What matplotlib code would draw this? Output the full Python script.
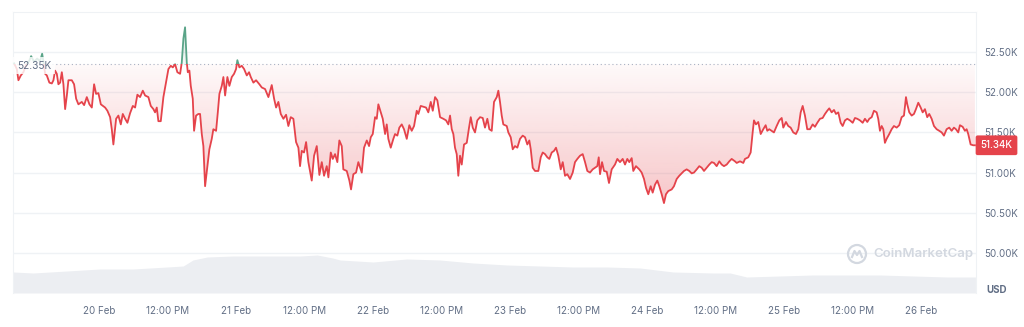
import numpy as np
import matplotlib
matplotlib.use("Agg")
import matplotlib.pyplot as plt
from matplotlib.colors import to_rgb
from matplotlib.patches import Rectangle, Ellipse
from matplotlib.lines import Line2D
import matplotlib.transforms as mtransforms

plt.rcParams["font.family"] = ["Inter", "DejaVu Sans"]

# price in K USD, time in hours from 20 Feb 00:00
price_hours = [
    -14.95, -14.48, -14.2, -13.78, -13.33, -12.85, -12.32, -11.97, -11.45, -10.92,
    -10.4, -10.04, -9.78, -9.52, -9.22, -8.77, -8.34, -8.06, -7.77, -7.47,
    -7.19, -6.89, -6.59, -6.31, -6.01, -5.71, -5.43, -4.84, -4.44, -4.08,
    -3.68, -3.09, -2.68, -2.21, -1.75, -1.33, -0.93, -0.58, -0.18, 0.25,
    1.0, 1.4, 1.88, 2.17, 2.45, 2.93, 3.33, 3.75, 4.1, 4.51,
    4.91, 5.38, 5.86, 6.26, 6.66, 7.13, 7.61, 8.01, 8.59, 9.01,
    9.47, 9.76, 10.06, 10.34, 10.76, 11.22, 11.69, 12.1, 12.52, 12.87,
    13.27, 13.67, 14.15, 14.44, 14.73, 15.02, 15.32, 15.5, 15.78, 16.02,
    16.37, 16.6, 16.95, 17.35, 17.65, 17.95, 18.23, 18.53, 18.93, 19.28,
    19.7, 19.98, 20.46, 20.76, 21.04, 21.46, 21.74, 22.04, 22.44, 22.79,
    23.21, 23.61, 23.96, 24.19, 24.54, 24.96, 25.37, 25.84, 26.24, 26.54,
    27.0, 27.47, 28.05, 28.47, 29.05, 29.63, 30.22, 30.63, 30.98, 31.38,
    31.8, 32.26, 32.73, 33.13, 33.55, 34.01, 34.48, 34.89, 35.18, 35.48,
    35.88, 36.24, 36.64, 37.23, 37.64, 38.11, 38.57, 38.99, 39.39, 39.86,
    40.15, 40.57, 40.92, 41.32, 41.72, 42.07, 42.49, 42.77, 43.37, 43.83,
    44.12, 44.53, 45.0, 45.4, 46.0, 46.4, 46.88, 47.28, 47.58, 47.93,
    48.33, 48.63, 48.91, 49.33, 49.68, 50.09, 50.38, 50.66, 51.08, 51.54,
    51.84, 52.24, 52.59, 53.01, 53.41, 53.89, 54.34, 54.76, 55.17, 55.64,
    55.92, 56.34, 56.8, 57.27, 57.67, 58.1, 58.45, 58.85, 59.25, 59.73,
    60.3, 60.78, 61.18, 61.48, 61.78, 62.06, 62.35, 62.65, 62.93, 63.23,
    63.53, 63.93, 64.41, 64.81, 65.11, 65.46, 65.86, 66.26, 66.74, 67.21,
    67.61, 68.02, 68.37, 68.79, 69.19, 69.67, 69.95, 70.24, 70.54, 70.82,
    71.42, 71.7, 72.12, 72.47, 72.87, 73.28, 73.75, 74.22, 74.63, 75.03,
    75.38, 75.63, 75.98, 76.38, 76.96, 77.38, 77.73, 78.13, 78.54, 78.89,
    79.31, 79.71, 80.06, 80.46, 80.89, 81.24, 81.64, 82.04, 82.52, 82.99,
    83.39, 83.8, 84.27, 84.74, 85.15, 85.55, 86.02, 86.49, 86.9, 87.3,
    87.55, 87.78, 88.13, 88.48, 88.95, 89.35, 89.82, 90.4, 90.81, 91.28,
    91.75, 92.16, 92.56, 92.91, 93.33, 93.61, 94.08, 94.66, 95.08, 95.49,
    95.84, 96.24, 96.66, 97.01, 97.42, 97.82, 98.17, 98.59, 98.99, 99.34,
    99.75, 100.34, 100.74, 101.22, 101.67, 102.09, 102.5, 102.97, 103.43, 103.85,
    104.25, 104.73, 105.18, 105.6, 106.01, 106.48, 106.94, 107.36, 107.76, 108.23,
    108.69, 109.11, 109.51, 109.99, 110.44, 110.86, 111.44, 111.74, 112.32, 112.9,
    113.19, 113.77, 114.19, 114.54, 114.77, 115.12, 115.52, 115.95, 116.4, 116.82,
    117.1, 117.45, 117.87, 118.27, 118.75, 119.21, 119.63, 119.91, 120.38, 120.78,
    121.2, 121.66, 122.13, 122.54, 122.96, 123.31, 123.71, 124.11, 124.59, 125.06,
    125.46, 125.87, 126.34, 126.81, 127.22, 127.62, 127.97, 128.39, 128.8, 129.15,
    129.55, 129.97, 130.32, 130.73, 131.13, 131.6, 132.08, 132.48, 132.88, 133.36,
    133.83, 134.23, 134.64, 134.99, 135.41, 135.81, 136.28, 136.56, 136.86, 137.16,
    137.44, 137.73, 138.03, 138.49, 138.91, 139.31, 139.79, 140.24, 140.66, 141.07,
    141.42, 141.65, 142.0, 142.42, 142.82, 143.17, 143.58, 144.0, 144.35, 144.75,
    145.15, 145.5, 145.92, 146.33, 146.8, 147.26, 147.68, 148.08, 148.55, 149.01,
    149.43, 149.83, 150.18, 150.59, 150.88, 151.36, 151.76, 152.06, 152.34, 152.76,
    153.21, 153.51,
]
price_k = [
    52.36, 52.29, 52.15, 52.21, 52.25, 52.34, 52.39, 52.45, 52.38, 52.42,
    52.39, 52.48, 52.37, 52.23, 52.21, 52.12, 52.11, 52.15, 52.27, 52.23,
    52.10, 52.12, 52.25, 52.10, 51.79, 51.96, 52.15, 52.15, 52.10, 51.92,
    51.85, 51.88, 51.84, 51.94, 51.85, 51.81, 52.10, 51.98, 51.99, 51.85,
    51.81, 51.77, 51.69, 51.54, 51.35, 51.67, 51.71, 51.60, 51.73, 51.67,
    51.62, 51.74, 51.83, 51.81, 51.97, 51.94, 52.02, 51.96, 51.94, 51.83,
    51.79, 51.75, 51.81, 51.64, 51.64, 51.94, 52.13, 52.29, 52.33, 52.31,
    52.35, 52.25, 52.23, 52.37, 52.67, 52.81, 52.37, 52.25, 52.27, 52.08,
    51.92, 51.52, 51.71, 51.73, 51.73, 51.48, 51.33, 50.83, 51.08, 51.29,
    51.42, 51.54, 51.52, 51.75, 51.98, 52.08, 52.19, 51.96, 52.19, 52.08,
    52.19, 52.23, 52.29, 52.40, 52.31, 52.33, 52.29, 52.21, 52.25, 52.19,
    52.12, 52.15, 52.10, 52.06, 52.04, 51.94, 52.09, 51.92, 51.81, 51.88,
    51.73, 51.67, 51.72, 51.58, 51.69, 51.67, 51.38, 51.31, 51.08, 51.27,
    51.25, 51.38, 51.13, 50.90, 51.21, 51.33, 50.97, 51.13, 50.96, 51.08,
    50.94, 51.25, 51.17, 51.23, 51.13, 51.40, 51.33, 51.04, 51.02, 50.90,
    50.79, 50.98, 51.00, 51.13, 51.00, 51.31, 51.40, 51.33, 51.44, 51.48,
    51.69, 51.67, 51.85, 51.75, 51.67, 51.48, 51.60, 51.42, 51.31, 51.42,
    51.48, 51.46, 51.56, 51.60, 51.54, 51.42, 51.59, 51.52, 51.58, 51.77,
    51.73, 51.83, 51.82, 51.81, 51.75, 51.88, 51.77, 51.94, 51.90, 51.69,
    51.67, 51.65, 51.60, 51.71, 51.54, 51.48, 51.31, 51.23, 50.96, 51.21,
    51.10, 51.35, 51.37, 51.56, 51.69, 51.56, 51.50, 51.65, 51.69, 51.68,
    51.56, 51.67, 51.54, 51.52, 51.88, 51.94, 52.02, 51.88, 51.71, 51.60,
    51.58, 51.50, 51.44, 51.29, 51.33, 51.31, 51.42, 51.46, 51.44, 51.35,
    51.40, 51.29, 51.06, 51.02, 51.02, 51.19, 51.25, 51.23, 51.19, 51.17,
    51.25, 51.27, 51.31, 51.21, 51.04, 51.13, 50.96, 50.98, 50.92, 51.00,
    51.13, 51.17, 51.21, 51.23, 51.13, 51.02, 51.00, 51.04, 51.06, 51.08,
    51.19, 50.98, 51.13, 51.02, 51.01, 50.87, 51.04, 51.10, 51.17, 51.13,
    51.17, 51.10, 51.17, 51.13, 51.18, 51.02, 51.08, 51.04, 51.00, 50.92,
    50.81, 50.73, 50.83, 50.75, 50.85, 50.90, 50.83, 50.73, 50.62, 50.73,
    50.77, 50.79, 50.83, 50.92, 50.96, 50.99, 51.02, 51.04, 51.02, 50.99,
    51.00, 51.04, 51.08, 51.06, 51.02, 51.06, 51.10, 51.13, 51.12, 51.08,
    51.14, 51.10, 51.08, 51.10, 51.14, 51.17, 51.14, 51.12, 51.14, 51.12,
    51.17, 51.19, 51.25, 51.50, 51.65, 51.60, 51.63, 51.48, 51.54, 51.59,
    51.52, 51.54, 51.52, 51.50, 51.58, 51.65, 51.68, 51.56, 51.63, 51.58,
    51.56, 51.50, 51.48, 51.54, 51.75, 51.83, 51.71, 51.54, 51.54, 51.60,
    51.57, 51.62, 51.67, 51.68, 51.73, 51.77, 51.80, 51.75, 51.78, 51.73,
    51.75, 51.62, 51.58, 51.65, 51.67, 51.65, 51.62, 51.68, 51.67, 51.65,
    51.62, 51.67, 51.63, 51.67, 51.69, 51.77, 51.75, 51.67, 51.52, 51.58,
    51.54, 51.37, 51.42, 51.48, 51.54, 51.58, 51.56, 51.59, 51.69, 51.71,
    51.94, 51.85, 51.75, 51.71, 51.73, 51.79, 51.87, 51.81, 51.75, 51.79,
    51.69, 51.73, 51.67, 51.58, 51.54, 51.52, 51.50, 51.46, 51.54, 51.56,
    51.52, 51.56, 51.54, 51.50, 51.59, 51.57, 51.52, 51.54, 51.48, 51.35,
    51.34, 51.34,
]
assert len(price_hours) == len(price_k)

# volume (arbitrary units, drawn as the grey band at the bottom)
vol_hours = [-15.1, -11.6, -5.7, 0.1, 5.9, 11.9, 14.7, 16.4, 18.9, 23.4,
             29.4, 35.2, 38.2, 40.9, 42.2, 48.0, 53.9, 59.7, 65.5, 71.5,
             77.3, 83.0, 89.0, 94.8, 100.6, 107.6, 110.6, 113.5, 119.3, 125.1,
             131.1, 136.9, 142.7, 148.6, 153.6]
vol_b = [21, 20, 22, 24, 24, 26, 27, 33, 36, 37,
         37, 37, 38, 35, 33, 31, 34, 33, 30, 28,
         27, 26, 26, 25, 21, 20, 20, 16, 17, 18,
         18, 18, 17, 16, 16]

ref_price = 52.35
last_price = 51.34
y_ticks = [50.0, 50.5, 51.0, 51.5, 52.0, 52.5]
x_ticks = [0, 12, 24, 36, 48, 60, 72, 84, 96, 108, 120, 132, 144]
x_labels = ["20 Feb", "12:00 PM", "21 Feb", "12:00 PM", "22 Feb", "12:00 PM", "23 Feb",
            "12:00 PM", "24 Feb", "12:00 PM", "25 Feb", "12:00 PM", "26 Feb"]

RED = "#e5434b"
GREEN = "#5aa488"
GRID = "#eff2f5"
TXT = "#616e85"

fig = plt.figure(figsize=(10.24, 3.27), dpi=100)
pos = [13 / 1024, 1 - 293 / 327, 963 / 1024, 281 / 327]
ax_vol = fig.add_axes(pos)
ax = fig.add_axes(pos, sharex=ax_vol)
ax.patch.set_visible(False)

ax_vol.fill_between(vol_hours, vol_b, color="#eceef2", lw=0)
ax_vol.set_ylim(0, 281)
ax_vol.axis("off")

t = np.array(price_hours)
p = np.array(price_k)
x0, x1 = t[0], t[-1]

# gradient fills between line and reference price
for side, col, a_far in (("below", RED, 0.30), ("above", GREEN, 0.30)):
    if side == "below":
        lo, hi = p.min(), ref_price
        poly = ax.fill_between(t, np.minimum(p, ref_price), ref_price, color="none", lw=0)
        alpha = np.linspace(a_far, 0.03, 256)
    else:
        lo, hi = ref_price, p.max()
        poly = ax.fill_between(t, ref_price, np.maximum(p, ref_price), color="none", lw=0)
        alpha = np.linspace(0.05, a_far, 256)
    rgba = np.zeros((256, 1, 4))
    rgba[..., :3] = to_rgb(col)
    rgba[:, 0, 3] = alpha
    im = ax.imshow(rgba, extent=[x0, x1, lo, hi], origin="lower", aspect="auto",
                   interpolation="bilinear", zorder=2)
    im.set_clip_path(poly.get_paths()[0], transform=ax.transData)

red_line, = ax.plot(t, p, color=RED, lw=1.3, zorder=4, solid_joinstyle="round")
red_line.set_clip_path(Rectangle((x0 - 5, 40), x1 - x0 + 10, ref_price - 40, transform=ax.transData))
green_line, = ax.plot(t, p, color=GREEN, lw=1.3, zorder=4, solid_joinstyle="round")
green_line.set_clip_path(Rectangle((x0 - 5, ref_price), x1 - x0 + 10, 20, transform=ax.transData))

ax.axhline(ref_price, color="#a9b2c3", lw=0.8, ls=(0, (1, 2.5)), zorder=3)

ax.set_xlim(-15.15, 153.7)
ax.set_ylim(49.5, 53.0)
ax.set_yticks(y_ticks)
ax.set_yticklabels([f"{v:.2f}K" for v in y_ticks])
ax.set_xticks(x_ticks)
ax.set_xticklabels(x_labels)
ax.yaxis.tick_right()
ax.grid(axis="y", color=GRID, lw=1)
ax.set_axisbelow(True)
ax.tick_params(axis="y", length=0, pad=6, labelsize=7, labelcolor=TXT)
ax.tick_params(axis="x", length=0, pad=9, labelsize=7, labelcolor=TXT)
for s in ("top", "left", "right"):
    ax.spines[s].set_color(GRID)
ax.spines["bottom"].set_visible(False)

blend = mtransforms.blended_transform_factory(ax.transAxes, ax.transData)
ax.text(0.0218, ref_price - 0.02, f"{ref_price:.2f}K", transform=blend, ha="center", va="center",
        fontsize=7.3, color=TXT, zorder=6,
        bbox=dict(boxstyle="square,pad=0.35", fc="white", ec="none", alpha=0.82))
ax.text(1.0213, last_price, f"{last_price:.2f}K", transform=blend, ha="center", va="center",
        fontsize=7, color="white", fontweight="medium", zorder=6, clip_on=False,
        bbox=dict(boxstyle="round,pad=0.5,rounding_size=0.2", fc=RED, ec="none"))

fig.text(997 / 1024, 1 - 290 / 327, "USD", ha="center", va="center", fontsize=7,
         fontweight="bold", color=TXT)

# watermark
wm = "#d3d8e0"
fig.text(873 / 1024, 1 - 254 / 327, "CoinMarketCap", ha="left", va="center", fontsize=9.5,
         fontweight="semibold", color=wm)
cx, cy = 857 / 1024, 1 - 254 / 327
fig.add_artist(Ellipse((cx, cy), 18 / 1024, 18 / 327, transform=fig.transFigure,
                       fill=False, ec=wm, lw=1.6))
fig.add_artist(Line2D([cx - 5 / 1024, cx - 2.5 / 1024, cx, cx + 2.5 / 1024, cx + 5 / 1024],
                      [cy - 3 / 327, cy + 3 / 327, cy - 1 / 327, cy + 3 / 327, cy - 3 / 327],
                      transform=fig.transFigure, color=wm, lw=1.6))

fig.savefig("out.png", dpi=100)
